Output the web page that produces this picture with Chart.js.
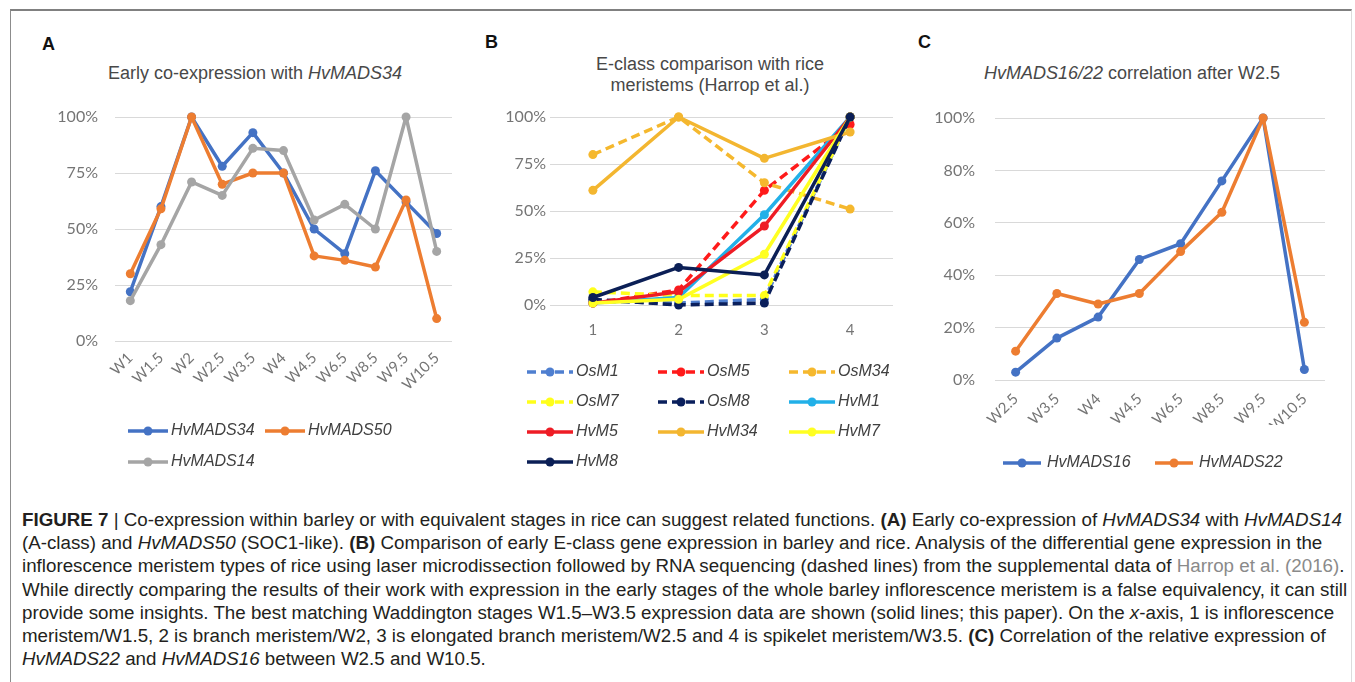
<!DOCTYPE html>
<html>
<head>
<meta charset="utf-8">
<script src="https://cdn.jsdelivr.net/npm/chart.js@4.4.0/dist/chart.umd.min.js"></script>
<style>
  body { margin: 0; background: #fff; width: 1355px; height: 682px; overflow: hidden; position: relative; font-family: "Liberation Sans", Arial, sans-serif; }
  .frame { position: absolute; left: 10px; top: 9px; width: 1340px; height: 690px; border-top: 2px solid #808080; border-left: 1px solid #8c8c8c; border-right: 1px solid #dcdcdc; }
  .panel { position: absolute; font-weight: bold; font-size: 18px; color: #111; }
  .title { position: absolute; width: 400px; text-align: center; font-size: 18px; line-height: 21px; color: #484848; }
  canvas { position: absolute; }
  #caption { position: absolute; left: 22px; top: 509px; font-family: "Liberation Sans Narrow", "Liberation Sans", sans-serif; font-size: 18px; line-height: 23.2px; color: #231f20; white-space: nowrap; transform-origin: 0 0; }
  #caption .ref { color: #8a8a8a; }
</style>
</head>
<body>
<div class="frame"></div>

<div class="panel" style="left:42px;top:34px;">A</div>
<div class="panel" style="left:485px;top:32px;">B</div>
<div class="panel" style="left:918px;top:32px;">C</div>

<div class="title" style="left:55px;top:63px;">Early co-expression with <i>HvMADS34</i></div>
<div class="title" style="left:510px;top:54px;">E-class comparison with rice<br>meristems (Harrop et al.)</div>
<div class="title" style="left:932px;top:63px;"><i>HvMADS16/22</i> correlation after W2.5</div>

<canvas id="chartA" width="440" height="380" style="left:20px;top:95px;"></canvas>
<canvas id="chartB" width="400" height="375" style="left:500px;top:100px;"></canvas>
<canvas id="chartC" width="420" height="380" style="left:920px;top:95px;"></canvas>

<div id="caption"><span id="cap1"><b>FIGURE 7</b> | Co-expression within barley or with equivalent stages in rice can suggest related functions. <b>(A)</b> Early co-expression of <i>HvMADS34</i> with <i>HvMADS14</i></span><br>(A-class) and <i>HvMADS50</i> (SOC1-like). <b>(B)</b> Comparison of early E-class gene expression in barley and rice. Analysis of the differential gene expression in the<br>inflorescence meristem types of rice using laser microdissection followed by RNA sequencing (dashed lines) from the supplemental data of <span class="ref">Harrop et al. (2016)</span>.<br>While directly comparing the results of their work with expression in the early stages of the whole barley inflorescence meristem is a false equivalency, it can still<br>provide some insights. The best matching Waddington stages W1.5–W3.5 expression data are shown (solid lines; this paper). On the <i>x</i>-axis, 1 is inflorescence<br>meristem/W1.5, 2 is branch meristem/W2, 3 is elongated branch meristem/W2.5 and 4 is spikelet meristem/W3.5. <b>(C)</b> Correlation of the relative expression of<br><i>HvMADS22</i> and <i>HvMADS16</i> between W2.5 and W10.5.</div>

<script>
// panel A: early co-expression (% of max)
const stagesA = ["W1", "W1.5", "W2", "W2.5", "W3.5", "W4", "W4.5", "W6.5", "W8.5", "W9.5", "W10.5"];
const hvMADS34 = [22, 60, 100, 78, 93, 75, 50, 39, 76, 62, 48];
const hvMADS50 = [30, 59, 100, 70, 75, 75, 38, 36, 33, 63, 10];
const hvMADS14 = [18, 43, 71, 65, 86, 85, 54, 61, 50, 100, 40];

// panel B: E-class, rice meristems (Os, dashed) vs barley (Hv, solid)
const meristemsB = ["1", "2", "3", "4"];
const osM1 = [2, 1, 3, 100];
const osM5 = [1, 8, 61, 96];
const osM34 = [80, 100, 65, 51];
const osM7 = [7, 5, 5, 100];
const osM8 = [3, 0, 1, 100];
const hvM1 = [1, 4, 48, 100];
const hvM5 = [1, 7, 42, 100];
const hvM34 = [61, 100, 78, 92];
const hvM7 = [1, 3, 27, 100];
const hvM8 = [4, 20, 16, 100];

// panel C: HvMADS16 / HvMADS22 after W2.5
const stagesC = ["W2.5", "W3.5", "W4", "W4.5", "W6.5", "W8.5", "W9.5", "W10.5"];
const hvMADS16 = [3, 16, 24, 46, 52, 76, 100, 4];
const hvMADS22 = [11, 33, 29, 33, 49, 64, 100, 22];

Chart.defaults.font.family = "Lato, 'Liberation Sans', sans-serif";
Chart.defaults.animation = false;

function lineSet(label, data, color, dashed, i) {
  return {
    label: label,
    data: data,
    borderColor: color,
    backgroundColor: color,
    pointBackgroundColor: color,
    pointBorderColor: color,
    pointBorderWidth: 0,
    pointRadius: 4.5,
    borderWidth: 3.5,
    borderDash: dashed ? [9, 5] : [],
    borderJoinStyle: "round",
    tension: 0,
    clip: false,
    order: -i
  };
}

// legend drawn as a grid, like the spreadsheet one
const gridLegend = {
  id: "gridLegend",
  afterDraw(chart, args, opts) {
    const ctx = chart.ctx;
    ctx.save();
    ctx.font = "italic 16px 'Liberation Sans', Arial, sans-serif";
    ctx.textBaseline = "middle";
    chart.data.datasets.forEach((ds, i) => {
      const col = i % opts.cols;
      const row = Math.floor(i / opts.cols);
      const x = opts.x + col * opts.colWidth;
      const y = opts.y + row * opts.rowHeight;
      ctx.strokeStyle = ds.borderColor;
      ctx.lineWidth = ds.borderWidth;
      ctx.setLineDash(ds.borderDash);
      ctx.beginPath();
      ctx.moveTo(x, y);
      ctx.lineTo(x + opts.iconWidth, y);
      ctx.stroke();
      ctx.setLineDash([]);
      ctx.fillStyle = ds.pointBackgroundColor;
      ctx.beginPath();
      ctx.arc(x + opts.iconWidth / 2, y, ds.pointRadius, 0, Math.PI * 2);
      ctx.fill();
      ctx.fillStyle = "#404040";
      ctx.fillText(ds.label, x + opts.iconWidth + opts.gap, y);
    });
    ctx.restore();
  }
};

function makeOptions(cfg) {
  return {
    responsive: false,
    devicePixelRatio: 1,
    layout: { padding: cfg.padding },
    plugins: {
      legend: { display: false },
      tooltip: { enabled: false },
      gridLegend: cfg.legend
    },
    scales: {
      x: {
        offset: true,
        grid: { display: false },
        border: { display: false },
        ticks: {
          color: "#757575",
          font: { size: 15 },
          autoSkip: false,
          minRotation: cfg.rotation,
          maxRotation: cfg.rotation,
          padding: cfg.xPad
        },
        afterFit(scale) { scale.height = cfg.xHeight; }
      },
      y: {
        min: 0,
        max: 100,
        border: { display: false },
        // invisible tick marks keep the labels away from the grid
        grid: { color: "#d9d9d9", lineWidth: 1, drawTicks: true, tickLength: cfg.yGap, tickColor: "rgba(0,0,0,0)" },
        ticks: {
          stepSize: cfg.step,
          color: "#757575",
          font: { size: 16 },
          padding: 1,
          callback: v => v + "%"
        },
        afterFit(scale) { scale.width = cfg.yWidth; }
      }
    }
  };
}

new Chart(document.getElementById("chartA"), {
  type: "line",
  data: {
    labels: stagesA,
    datasets: [
      lineSet("HvMADS34", hvMADS34, "#4472c4", false, 0),
      lineSet("HvMADS50", hvMADS50, "#ed7d31", false, 1),
      lineSet("HvMADS14", hvMADS14, "#a5a5a5", false, 2)
    ]
  },
  options: makeOptions({
    padding: { top: 22, right: 8, left: 0, bottom: 80 },
    yWidth: 95, yGap: 16, xHeight: 54, xPad: 0, rotation: 45, step: 25,
    legend: { x: 108, y: 336, cols: 2, colWidth: 137, rowHeight: 31, iconWidth: 40, gap: 3 }
  }),
  plugins: [gridLegend]
});

new Chart(document.getElementById("chartB"), {
  type: "line",
  data: {
    labels: meristemsB,
    datasets: [
      lineSet("OsM1", osM1, "#4f7fd0", true, 0),
      lineSet("OsM5", osM5, "#ff1a1a", true, 1),
      lineSet("OsM34", osM34, "#f5b82e", true, 2),
      lineSet("OsM7", osM7, "#ffff1a", true, 3),
      lineSet("OsM8", osM8, "#0a1f5c", true, 4),
      lineSet("HvM1", hvM1, "#22b0e8", false, 5),
      lineSet("HvM5", hvM5, "#ee1c25", false, 6),
      lineSet("HvM34", hvM34, "#f3b630", false, 7),
      lineSet("HvM7", hvM7, "#ffff22", false, 8),
      lineSet("HvM8", hvM8, "#0b1f56", false, 9)
    ]
  },
  options: makeOptions({
    padding: { top: 17, right: 7, left: 0, bottom: 135 },
    yWidth: 50, yGap: 3, xHeight: 35, xPad: 8, rotation: 0, step: 25,
    legend: { x: 27, y: 272, cols: 3, colWidth: 131, rowHeight: 30, iconWidth: 46, gap: 3 }
  }),
  plugins: [gridLegend]
});

new Chart(document.getElementById("chartC"), {
  type: "line",
  data: {
    labels: stagesC,
    datasets: [
      lineSet("HvMADS16", hvMADS16, "#4472c4", false, 0),
      lineSet("HvMADS22", hvMADS22, "#ed7d31", false, 1)
    ]
  },
  options: makeOptions({
    padding: { top: 23, right: 15, left: 0, bottom: 50 },
    yWidth: 75, yGap: 19, xHeight: 45, xPad: 2, rotation: 45, step: 20,
    legend: { x: 83, y: 368, cols: 2, colWidth: 152, rowHeight: 30, iconWidth: 38, gap: 6 }
  }),
  plugins: [gridLegend]
});

// stretch the caption so the first line spans the frame like the figure
function fitCaption() {
  const cap = document.getElementById("caption");
  cap.style.transform = "none";
  const w = document.getElementById("cap1").getBoundingClientRect().width;
  cap.style.transform = "scaleX(" + (1320 / w) + ")";
}
fitCaption();
document.fonts.ready.then(fitCaption);
</script>
</body>
</html>
